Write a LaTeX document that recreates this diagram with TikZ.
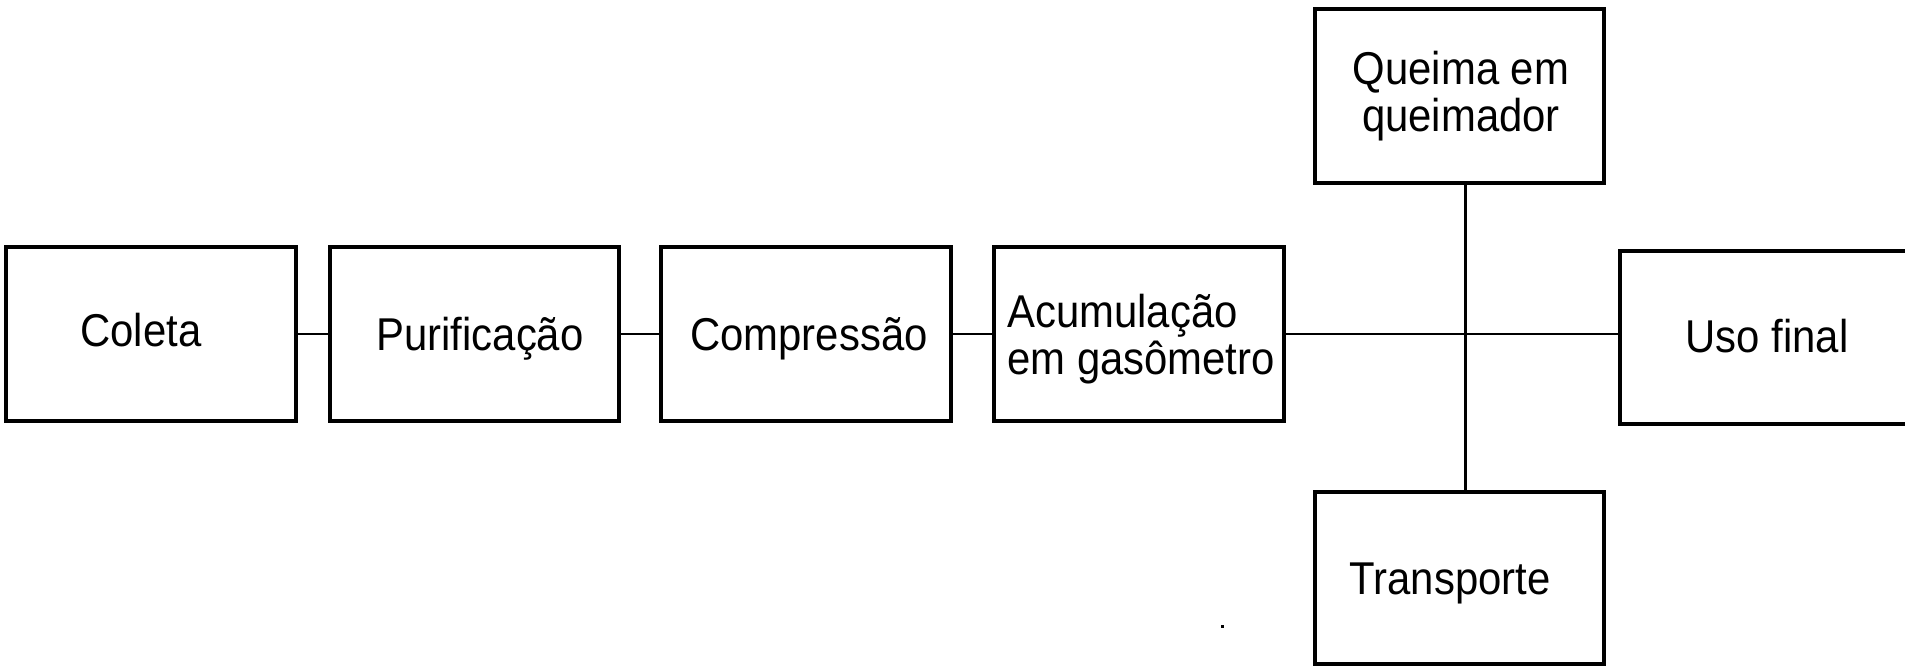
\documentclass[tikz,border=0pt]{standalone}
\usepackage{fontspec}
\newfontfamily\lblfont[FakeStretch=0.91]{Liberation Sans}
\begin{document}
\begin{tikzpicture}[x=0.75pt,y=-0.75pt,
  box/.style={draw=black,line width=2.4pt,rectangle,inner sep=0pt},
  lbl/.style={font=\lblfont\fontsize{34.5}{35.25}\selectfont,inner sep=0pt,text=black},
  conn/.style={draw=black,line width=1.9pt}]
\useasboundingbox (0,0) rectangle (1905,666);
% boxes
\node[box,minimum width=290*0.75pt,minimum height=174*0.75pt] (coleta) at (151,334) {};
\node[box,minimum width=289*0.75pt,minimum height=174*0.75pt] (purif) at (474.5,334) {};
\node[box,minimum width=290*0.75pt,minimum height=174*0.75pt] (compr) at (806,334) {};
\node[box,minimum width=290*0.75pt,minimum height=174*0.75pt] (acum) at (1139,334) {};
\node[box,minimum width=289*0.75pt,minimum height=174*0.75pt] (queima) at (1459.5,96) {};
\node[box,minimum width=289*0.75pt,minimum height=172*0.75pt] (transp) at (1459.5,578) {};
\node[box,minimum width=300*0.75pt,minimum height=173*0.75pt] (uso) at (1770,337.5) {};
% labels
\node[lbl,anchor=base] (tcoleta) at (141,347) {Coleta};
\node[lbl,anchor=base] (tpurif) at (480,350) {Purificação};
\node[lbl,anchor=base] (tcompr) at (809,350) {Compressão};
\node[lbl,anchor=base west,align=left] (tacum) at (1007,374) {Acumulação\\em gasômetro};
\node[lbl,anchor=base,align=center] (tqueima) at (1461,132) {Queima em\\queimador};
\node[lbl,anchor=base] (tuso) at (1767,353) {Uso final};
\node[lbl,anchor=base] (ttransp) at (1450,594) {Transporte};
% connectors
\draw[conn] (coleta.east) -- (purif.west);
\draw[conn] (purif.east) -- (compr.west);
\draw[conn] (compr.east) -- (acum.west);
\draw[conn] (acum.east) -- (acum.east -| uso.west);
\draw[conn] ([xshift=4.5pt]queima.south) -- ([xshift=4.5pt]transp.north);
% stray dot
\fill[black] (1220.5,624.5) rectangle (1223.5,627.5);
\end{tikzpicture}
\end{document}
